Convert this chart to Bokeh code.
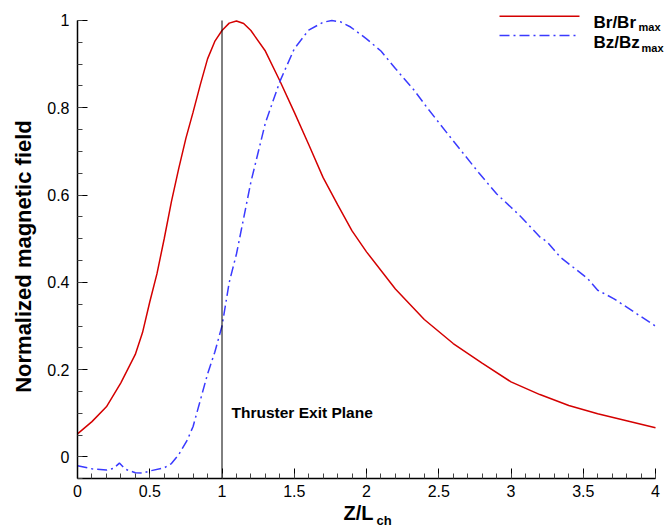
import math
from bokeh.plotting import figure
from bokeh.models import Range1d, FixedTicker, NumeralTickFormatter, Label
from bokeh.embed import file_html
from bokeh.resources import INLINE

# ---- data ----
br_x = [0.0, 0.1, 0.2, 0.3, 0.4, 0.45, 0.5, 0.55, 0.6, 0.65, 0.7, 0.75, 0.8,
        0.85, 0.9, 0.95, 1.0, 1.05, 1.1, 1.15, 1.2, 1.3, 1.4, 1.5, 1.6, 1.7,
        1.8, 1.9, 2.0, 2.2, 2.4, 2.6, 2.8, 3.0, 3.2, 3.4, 3.6, 3.8, 4.0]
br_y = [0.053, 0.081, 0.115, 0.170, 0.235, 0.285, 0.355, 0.420, 0.500, 0.585,
        0.660, 0.730, 0.790, 0.853, 0.912, 0.952, 0.977, 0.994, 0.999, 0.993,
        0.977, 0.930, 0.862, 0.790, 0.716, 0.640, 0.578, 0.518, 0.470, 0.385,
        0.315, 0.260, 0.215, 0.172, 0.143, 0.118, 0.099, 0.083, 0.067]

bz_x = [0.0, 0.1, 0.2, 0.25, 0.29, 0.33, 0.4, 0.45, 0.5, 0.6, 0.65, 0.7, 0.76,
        0.8, 0.85, 0.9, 0.95, 1.0, 1.05, 1.1, 1.2, 1.3, 1.4, 1.5, 1.6, 1.7,
        1.76, 1.82, 1.89, 2.0, 2.1, 2.2, 2.33, 2.42, 2.56, 2.78, 2.9, 3.0, 3.07,
        3.2, 3.25, 3.34, 3.53, 3.6, 3.71, 3.99, 4.0]
bz_y = [-0.020, -0.027, -0.030, -0.026, -0.014, -0.028, -0.036, -0.037, -0.032,
        -0.025, -0.015, 0.005, 0.039, 0.070, 0.130, 0.190, 0.240, 0.300, 0.400,
        0.465, 0.630, 0.765, 0.860, 0.935, 0.978, 0.996, 1.000, 0.997, 0.985,
        0.958, 0.930, 0.890, 0.840, 0.800, 0.741, 0.650, 0.603, 0.572, 0.550,
        0.504, 0.493, 0.458, 0.409, 0.382, 0.363, 0.302, 0.299]

x_ticks = [0, 0.5, 1, 1.5, 2, 2.5, 3, 3.5, 4]
y_ticks = [0, 0.2, 0.4, 0.6, 0.8, 1.0]
exit_plane = 1.0
x_lim = (0.0, 4.0)
y_lim = (-0.05, 1.0)

RED = "#d40000"
BLUE = "#3a3aff"
FONT = "Liberation Sans"
DASH = "10 4 2 4"

# the frame fills the whole canvas; axes sit at fixed data locations
p = figure(width=665, height=529, output_backend="svg", toolbar_location=None,
           x_range=Range1d(-0.53287, 4.06920), y_range=Range1d(-0.1661, 1.0458),
           min_border_left=0, min_border_right=0, min_border_top=0,
           min_border_bottom=0)
p.outline_line_color = None
p.xgrid.visible = False
p.ygrid.visible = False
p.background_fill_color = "white"
p.border_fill_color = "white"

for ax in (p.xaxis[0], p.yaxis[0]):
    ax.major_tick_in = 10
    ax.major_tick_out = 0
    ax.minor_tick_in = 5
    ax.minor_tick_out = 0
    ax.axis_line_width = 1.5
    ax.axis_line_color = "black"
    ax.major_tick_line_color = "black"
    ax.minor_tick_line_color = "#444444"
    ax.major_label_text_font = FONT
    ax.major_label_text_font_size = "16px"
    ax.major_label_text_color = "black"
    ax.formatter = NumeralTickFormatter(format="0.[0]")

p.xaxis.ticker = FixedTicker(ticks=x_ticks, minor_ticks=[i / 10 for i in range(41)])
p.yaxis.ticker = FixedTicker(ticks=y_ticks, minor_ticks=[i / 20 - 0.05 for i in range(22)])
p.xaxis.fixed_location = y_lim[0]
p.yaxis.fixed_location = x_lim[0]
p.xaxis.bounds = x_lim
p.yaxis.bounds = y_lim
p.xaxis.major_label_standoff = 6
p.yaxis.major_label_standoff = 8

# curves
p.line(br_x, br_y, line_color=RED, line_width=1.5)
p.line(bz_x, bz_y, line_color=BLUE, line_width=1.5, line_dash=DASH)

# exit plane line
p.segment(x0=[exit_plane], y0=[y_lim[0]], x1=[exit_plane], y1=[y_lim[1]],
          line_color="black", line_width=1)

# legend (manual, for the subscripts)
p.line([2.9204, 3.4740], [1.0099, 1.0099], line_color=RED, line_width=1.5)
p.line([2.9204, 3.4740], [0.9656, 0.9656], line_color=BLUE, line_width=1.5,
       line_dash=DASH)

def lab(x, y, t, size, bold=True, **kw):
    kw.setdefault("text_baseline", "alphabetic")
    p.add_layout(Label(x=x, y=y, text=t, text_font=FONT, text_font_size=size,
                       text_font_style="bold" if bold else "normal",
                       text_color="black", **kw))

lab(3.5709, 0.9961, "Br/Br", "17px")
lab(3.8824, 0.9840, "max", "11px")
lab(3.5709, 0.9485, "Bz/Bz", "17px")
lab(3.9030, 0.9359, "max", "11px")

lab(1.0657, 0.1026, "Thruster Exit Plane", "15.5px")

# axis titles
lab(1.8408, -0.1294, "Z/L", "20px")
lab(2.0692, -0.1454, "ch", "13px")
lab(-0.3737, 0.4593, "Normalized magnetic field", "22px",
    angle=math.pi / 2, text_align="center", text_baseline="middle")

open("out.html", "w").write(file_html(p, INLINE))
